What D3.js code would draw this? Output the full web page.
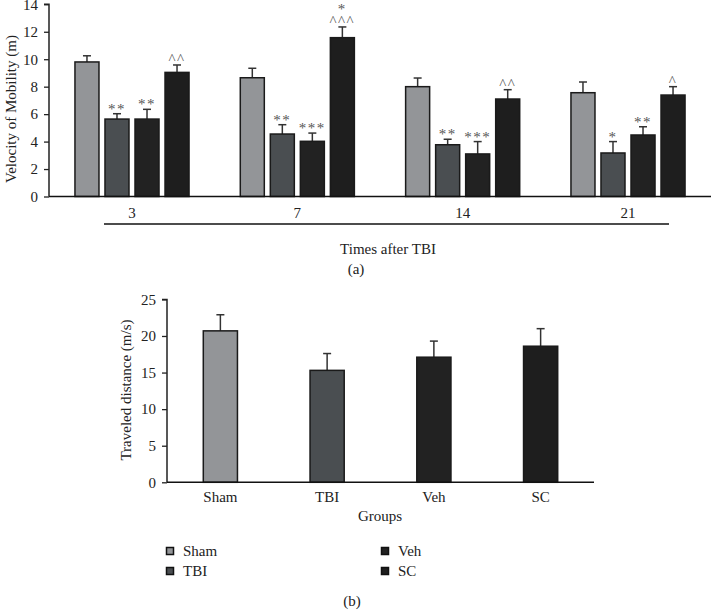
<!DOCTYPE html>
<html><head><meta charset="utf-8">
<script src="https://cdn.jsdelivr.net/npm/d3@7"></script>
<style>
body{margin:0;background:#fff;}
svg{display:block;font-family:"Liberation Serif","Times New Roman",serif;}
</style></head>
<body><svg id="c" width="711" height="610"></svg>
<script>
// ---------- data ----------
const timepoints = ["3", "7", "14", "21"];
const groups = ["Sham", "TBI", "Veh", "SC"];
const velShamMean = [9.8, 8.65, 8.0, 7.56];
const velShamErr  = [0.45, 0.69, 0.63, 0.78];
const velTBIMean  = [5.64, 4.55, 3.77, 3.17];
const velTBIErr   = [0.39, 0.68, 0.40, 0.83];
const velVehMean  = [5.64, 4.02, 3.10, 4.48];
const velVehErr   = [0.71, 0.60, 0.90, 0.60];
const velSCMean   = [9.04, 11.57, 7.10, 7.39];
const velSCErr    = [0.54, 0.78, 0.68, 0.61];
const velShamSig = ["", "", "", ""];
const velTBISig  = ["**", "**", "**", "*"];
const velVehSig  = ["**", "***", "***", "**"];
const velSCSig   = ["^^", "*\n^^^", "^^", "^"];
const yTicksA = [0, 2, 4, 6, 8, 10, 12, 14];

const distMean = [20.7, 15.3, 17.1, 18.6];
const distErr  = [2.2, 2.3, 2.2, 2.4];
const yTicksB = [0, 5, 10, 15, 20, 25];

const colors = {Sham: "#939598", TBI: "#4a4e51", Veh: "#222222", SC: "#1e1e1e"};

// ---------- build ----------
const velSeries = {
  Sham: {m: velShamMean, e: velShamErr, s: velShamSig},
  TBI:  {m: velTBIMean,  e: velTBIErr,  s: velTBISig},
  Veh:  {m: velVehMean,  e: velVehErr,  s: velVehSig},
  SC:   {m: velSCMean,   e: velSCErr,   s: velSCSig}
};
const svg = d3.select("#c");
const font = '"Liberation Serif","Times New Roman",serif';

// ---- Chart (a) ----
const A = {left: 49, right: 711, top: 4.3, bottom: 196.5};
const x0 = d3.scaleBand().domain(timepoints).range([A.left, A.right]).paddingInner(0.31).paddingOuter(0.157);
const x1 = d3.scaleBand().domain(groups).range([0, x0.bandwidth()]).paddingInner(0.2).paddingOuter(0);
const yA = d3.scaleLinear().domain([0, 14]).range([A.bottom, A.top]);

const gA = svg.append("g");
const rowsA = [];
timepoints.forEach((t, i) => groups.forEach(g => rowsA.push({t, g, m: velSeries[g].m[i], e: velSeries[g].e[i], s: velSeries[g].s[i]})));

// error bars
const errA = gA.append("g").selectAll("g").data(rowsA).join("g");
errA.append("line")
  .attr("x1", d => x0(d.t) + x1(d.g) + x1.bandwidth() / 2)
  .attr("x2", d => x0(d.t) + x1(d.g) + x1.bandwidth() / 2)
  .attr("y1", d => yA(d.m)).attr("y2", d => yA(d.m + d.e))
  .attr("stroke", "#333").attr("stroke-width", 1.5);
errA.append("line")
  .attr("x1", d => x0(d.t) + x1(d.g) + x1.bandwidth() / 2 - 4)
  .attr("x2", d => x0(d.t) + x1(d.g) + x1.bandwidth() / 2 + 4)
  .attr("y1", d => yA(d.m + d.e)).attr("y2", d => yA(d.m + d.e))
  .attr("stroke", "#333").attr("stroke-width", 1.5);

gA.append("g").selectAll("rect").data(rowsA).join("rect")
  .attr("x", d => x0(d.t) + x1(d.g))
  .attr("y", d => yA(d.m))
  .attr("width", x1.bandwidth())
  .attr("height", d => yA(0) - yA(d.m))
  .attr("fill", d => colors[d.g])
  .attr("stroke", "#1a1a1a").attr("stroke-width", 1.5);

// significance marks
const sigA = gA.append("g").selectAll("text").data(rowsA.filter(d => d.s)).join("text")
  .attr("text-anchor", "middle")
  .attr("font-family", font).attr("font-size", 15).attr("fill", "#555")
  .attr("letter-spacing", 1.5);
sigA.each(function (d) {
  const lines = d.s.split("\n");
  const cx = x0(d.t) + x1(d.g) + x1.bandwidth() / 2;
  const base = yA(d.m + d.e) - 2;
  lines.forEach((ln, k) => {
    const isCaret = ln.startsWith("^");
    d3.select(this).append("tspan")
      .attr("x", cx)
      .attr("y", base - (lines.length - 1 - k) * 13 + (isCaret ? 1 : 2))
      .text(ln);
  });
});

// axes
const yAxisA = gA.append("g").attr("transform", `translate(${A.left},0)`)
  .call(d3.axisLeft(yA).tickValues(yTicksA).tickSize(5).tickPadding(6).tickFormat(d3.format("d")));
yAxisA.select(".domain").attr("stroke", "#222").attr("stroke-width", 1.5).attr("d", `M-5,${yA(14)}H0V${yA(0)}`);
yAxisA.selectAll(".tick line").attr("stroke", "#222").attr("stroke-width", 1.3);
yAxisA.selectAll("text").attr("font-family", font).attr("font-size", 15).attr("fill", "#222");

gA.append("line").attr("x1", A.left).attr("x2", A.right).attr("y1", yA(0)).attr("y2", yA(0))
  .attr("stroke", "#111").attr("stroke-width", 1.5);
const xAxisA = gA.append("g").attr("transform", `translate(0,${yA(0)})`)
  .call(d3.axisBottom(x0).tickSize(0).tickPadding(11));
xAxisA.select(".domain").remove();
xAxisA.selectAll("text").attr("font-family", font).attr("font-size", 15).attr("fill", "#222");

gA.append("line").attr("x1", 104).attr("x2", 669).attr("y1", 224).attr("y2", 224)
  .attr("stroke", "#111").attr("stroke-width", 1.5);
gA.append("text").attr("x", 388).attr("y", 254).attr("text-anchor", "middle")
  .attr("font-family", font).attr("font-size", 15).attr("fill", "#222").text("Times after TBI");
gA.append("text").attr("x", 356).attr("y", 274).attr("text-anchor", "middle")
  .attr("font-family", font).attr("font-size", 15).attr("fill", "#222").text("(a)");
gA.append("text").attr("transform", "translate(16,109) rotate(-90)").attr("text-anchor", "middle")
  .attr("font-family", font).attr("font-size", 15).attr("fill", "#222").text("Velocity of Mobility (m)");

// ---- Chart (b) ----
const B = {left: 167, right: 594, top: 299.4, bottom: 482.3};
const xB = d3.scaleBand().domain(groups).range([B.left, B.right]).paddingInner(0.68).paddingOuter(0.34);
const yB = d3.scaleLinear().domain([0, 25]).range([B.bottom, B.top]);
const gB = svg.append("g");
const rowsB = groups.map((g, i) => ({g, m: distMean[i], e: distErr[i]}));

const errB = gB.append("g").selectAll("g").data(rowsB).join("g");
errB.append("line")
  .attr("x1", d => xB(d.g) + xB.bandwidth() / 2).attr("x2", d => xB(d.g) + xB.bandwidth() / 2)
  .attr("y1", d => yB(d.m)).attr("y2", d => yB(d.m + d.e))
  .attr("stroke", "#333").attr("stroke-width", 1.5);
errB.append("line")
  .attr("x1", d => xB(d.g) + xB.bandwidth() / 2 - 4).attr("x2", d => xB(d.g) + xB.bandwidth() / 2 + 4)
  .attr("y1", d => yB(d.m + d.e)).attr("y2", d => yB(d.m + d.e))
  .attr("stroke", "#333").attr("stroke-width", 1.5);

gB.append("g").selectAll("rect").data(rowsB).join("rect")
  .attr("x", d => xB(d.g)).attr("y", d => yB(d.m))
  .attr("width", xB.bandwidth()).attr("height", d => yB(0) - yB(d.m))
  .attr("fill", d => colors[d.g]).attr("stroke", "#1a1a1a").attr("stroke-width", 1.5);

const yAxisB = gB.append("g").attr("transform", `translate(${B.left},0)`)
  .call(d3.axisLeft(yB).tickValues(yTicksB).tickSize(5).tickPadding(6));
yAxisB.select(".domain").attr("stroke", "#222").attr("stroke-width", 1.5).attr("d", `M-5,${yB(25)}H0V${yB(0)}`);
yAxisB.selectAll(".tick line").attr("stroke", "#222").attr("stroke-width", 1.3);
yAxisB.selectAll("text").attr("font-family", font).attr("font-size", 15).attr("fill", "#222");

const xAxisB = gB.append("g").attr("transform", `translate(0,${yB(0)})`)
  .call(d3.axisBottom(xB).tickSize(0).tickPadding(9));
xAxisB.select(".domain").attr("stroke", "#111").attr("stroke-width", 1.5).attr("d", `M${B.left},0H${B.right}`);
xAxisB.selectAll("text").attr("font-family", font).attr("font-size", 15).attr("fill", "#222");

gB.append("text").attr("x", 380).attr("y", 521).attr("text-anchor", "middle")
  .attr("font-family", font).attr("font-size", 15).attr("fill", "#222").text("Groups");
gB.append("text").attr("transform", "translate(131,390) rotate(-90)").attr("text-anchor", "middle")
  .attr("font-family", font).attr("font-size", 15).attr("fill", "#222").text("Traveled distance (m/s)");

// legend
const legPos = [[170, 551], [170, 571], [385, 551], [385, 571]];
const leg = gB.append("g").selectAll("g").data(groups).join("g")
  .attr("transform", (d, i) => `translate(${legPos[i][0]},${legPos[i][1]})`);
leg.append("rect").attr("x", -3.5).attr("y", -3.5).attr("width", 7).attr("height", 7)
  .attr("fill", d => colors[d]).attr("stroke", "#111").attr("stroke-width", 1.5);
leg.append("text").attr("x", 13).attr("y", 5).attr("font-family", font).attr("font-size", 15)
  .attr("fill", "#222").text(d => d);

gB.append("text").attr("x", 352).attr("y", 606).attr("text-anchor", "middle")
  .attr("font-family", font).attr("font-size", 15).attr("fill", "#222").text("(b)");
</script></body></html>
